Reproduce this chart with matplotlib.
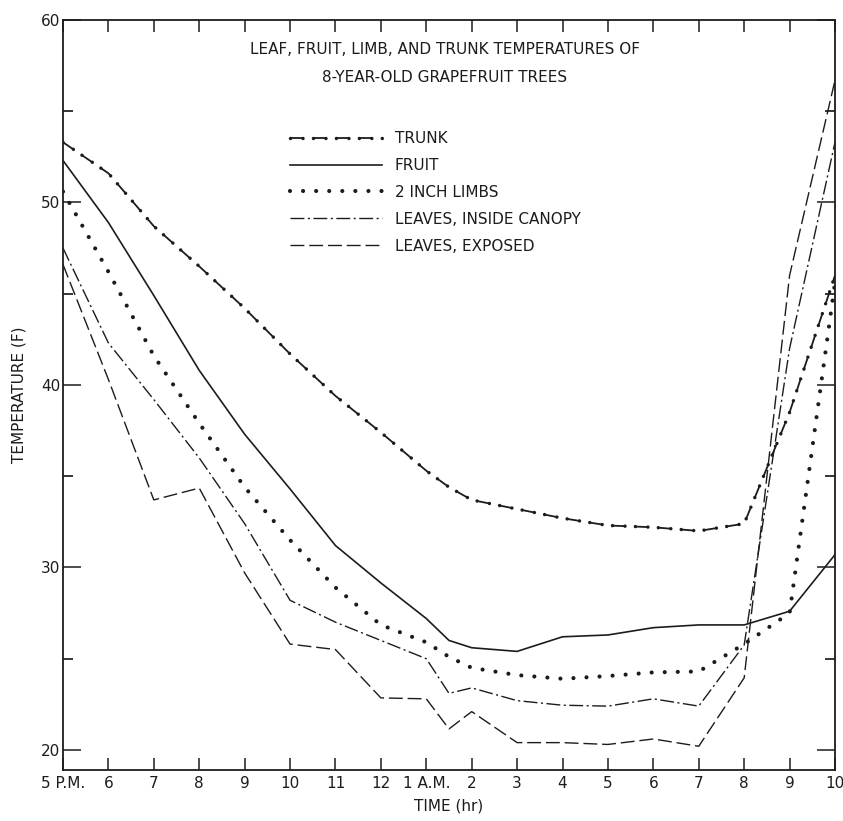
import matplotlib
matplotlib.use("Agg")
import matplotlib.pyplot as plt
import numpy as np

# hours after 5 P.M. (8.5 = 1:30 A.M.)
hours = [0, 1, 2, 3, 4, 5, 6, 7, 8, 8.5, 9, 10, 11, 12, 13, 14, 15, 16, 17]

trunk = [53.3, 51.6, 48.7, 46.5, 44.2, 41.7, 39.4, 37.4, 35.3, 34.4,
         33.7, 33.2, 32.7, 32.3, 32.2, 32.0, 32.4, 38.5, 46.0]
fruit = [52.3, 48.9, 44.9, 40.8, 37.3, 34.3, 31.2, 29.15, 27.2, 26.0,
         25.6, 25.4, 26.2, 26.3, 26.7, 26.85, 26.85, 27.6, 30.7]
limbs = [50.6, 46.2, 41.6, 37.9, 34.4, 31.5, 28.9, 26.85, 25.9, 25.1,
         24.5, 24.1, 23.9, 24.05, 24.25, 24.3, 25.8, 27.5, 45.6]
leaves_inside = [47.5, 42.3, 39.2, 36.0, 32.4, 28.2, 27.0, 26.0, 25.0, 23.1,
                 23.4, 22.7, 22.45, 22.4, 22.8, 22.4, 25.75, 42.0, 53.3]
leaves_exposed = [46.6, 40.3, 33.7, 34.35, 29.7, 25.8, 25.5, 22.85, 22.8, 21.15,
                  22.1, 20.4, 20.4, 20.3, 20.6, 20.2, 23.95, 46.0, 56.7]

hour_ticks = list(range(18))
hour_labels = ["5 P.M.", "6", "7", "8", "9", "10", "11", "12", "1 A.M.",
               "2", "3", "4", "5", "6", "7", "8", "9", "10"]

plt.rcParams['font.family'] = ['DejaVu Sans']
plt.rcParams['lines.scale_dashes'] = False
ink = "#1c1c1c"

fig = plt.figure(figsize=(8.43, 8.21), dpi=100)
ax = fig.add_axes([63 / 843, 1 - 770 / 821, 772 / 843, 750 / 821])

# trunk: dashes with a dot at each end
t1, = ax.plot(hours, trunk, color=ink, lw=1.3, ls=(0, (9, 7.5)))
t2, = ax.plot(hours, trunk, color=ink, lw=2.5, ls=(0, (0.01, 9, 0.01, 7.5)),
              dash_capstyle='round')
f1, = ax.plot(hours, fruit, color=ink, lw=1.2, ls='-')
l1, = ax.plot(hours, limbs, color=ink, lw=3.0, ls=(0, (0.01, 9.4)),
              dash_capstyle='round')
i1, = ax.plot(hours, leaves_inside, color=ink, lw=1.0, ls=(0, (10, 2.5, 1.5, 2.5)))
e1, = ax.plot(hours, leaves_exposed, color=ink, lw=1.0, ls=(0, (10, 3.5)))

ax.set_xlim(0, 17)
ax.set_ylim(18.9, 60)
ax.set_xticks(hour_ticks)
ax.set_xticklabels(hour_labels)
ax.set_yticks([20, 30, 40, 50, 60])
ax.set_yticks([25, 35, 45, 55], minor=True)

ax.tick_params(axis='x', which='major', direction='in', length=8.6, width=1.1,
               top=True, labelsize=11, pad=4, colors=ink)
ax.tick_params(axis='y', which='major', direction='in', length=13, width=1.1,
               right=True, labelsize=11, pad=2, colors=ink)
ax.tick_params(axis='y', which='minor', direction='in', length=7, width=1.1,
               right=True)
for s in ax.spines.values():
    s.set_linewidth(1.3)
    s.set_color(ink)

ax.set_xlabel("TIME (hr)", fontsize=11, color=ink, labelpad=6)
ax.set_ylabel("TEMPERATURE (F)", fontsize=11, color=ink, labelpad=10)

fig.text(445 / 843, 1 - 50 / 821, "LEAF, FRUIT, LIMB, AND TRUNK TEMPERATURES OF",
         ha='center', va='center', fontsize=11, color=ink)
fig.text(445 / 843, 1 - 77 / 821, "8-YEAR-OLD GRAPEFRUIT TREES",
         ha='center', va='center', fontsize=11, color=ink)

ax.legend([(t1, t2), f1, l1, i1, e1],
          ["TRUNK", "FRUIT", "2 INCH LIMBS", "LEAVES, INSIDE CANOPY", "LEAVES, EXPOSED"],
          loc='upper left', bbox_to_anchor=(290 / 843, 1 - 131 / 821),
          bbox_transform=fig.transFigure, frameon=False, borderpad=0,
          borderaxespad=0, handlelength=6.0, handletextpad=0.85,
          labelspacing=0.78, fontsize=11, labelcolor=ink)

fig.savefig("out.png", dpi=100)
